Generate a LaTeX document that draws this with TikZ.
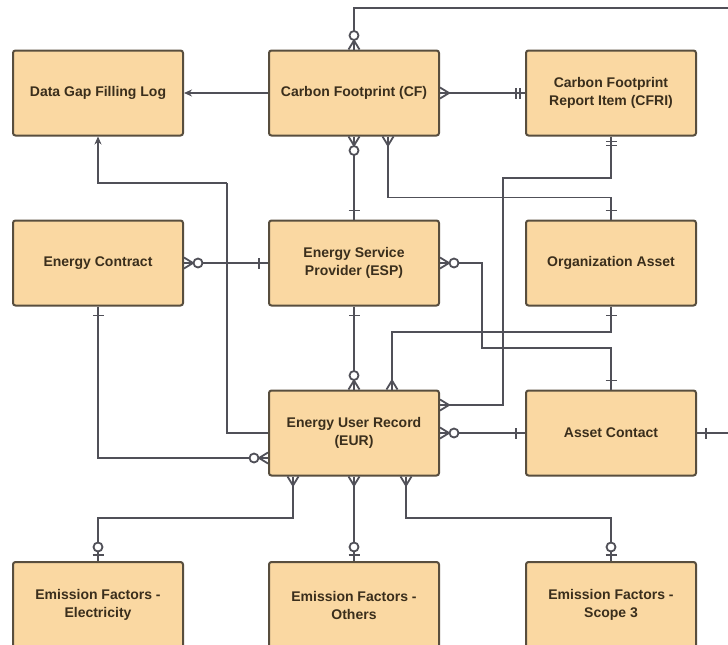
\documentclass[tikz,border=0pt]{standalone}
\usepackage{fontspec}
\setmainfont{Liberation Sans}
\usetikzlibrary{arrows.meta,calc}
\definecolor{boxfill}{RGB}{250,216,162}
\definecolor{boxline}{RGB}{88,78,62}
\definecolor{txt}{RGB}{58,46,28}
\definecolor{wire}{RGB}{80,80,88}
\begin{document}
\begin{tikzpicture}[x=1pt,y=-1pt,
  ent/.style={draw=boxline, line width=2pt, fill=boxfill, rounded corners=2.5pt,
    minimum width=170pt, minimum height=85pt, inner sep=0pt, align=center,
    font=\bfseries\fontsize{14}{18}\selectfont, text=txt},
  conn/.style={draw=wire, line width=1.8pt},
  tip/.style={-{Stealth[length=8pt,width=7pt]}},
  many/.pic={\draw[conn] (0,5.5) -- (9,0) -- (0,-5.5);},
  zmany/.pic={\draw[conn] (0,5.5) -- (9,0) -- (0,-5.5); \draw[conn,fill=white] (14,0) circle[radius=4.5pt];},
  one/.pic={\draw[conn] (9,-5.5) -- (9,5.5);},
  oneonly/.pic={\draw[conn] (5,-5.5) -- (5,5.5) (9,-5.5) -- (9,5.5);},
  zone/.pic={\draw[conn] (6,-5.5) -- (6,5.5); \draw[conn,fill=white] (14,0) circle[radius=4.5pt];}
]
\clip (0,0) rectangle (728,645);
\fill[white] (0,0) rectangle (728,645);

% entities
\node[ent] (dgfl) at (98,93)  {Data Gap Filling Log};
\node[ent] (cf)   at (354,93) {Carbon Footprint (CF)};
\node[ent] (cfri) at (611,93) {Carbon Footprint\\Report Item (CFRI)};
\node[ent] (ec)   at (98,263) {Energy Contract};
\node[ent] (esp)  at (354,263) {Energy Service\\Provider (ESP)};
\node[ent] (oa)   at (611,263) {Organization Asset};
\node[ent] (eur)  at (354,433) {Energy User Record\\(EUR)};
\node[ent] (ac)   at (611,433) {Asset Contact};
\node[ent, minimum height=86pt] (efe) at (98,605)  {Emission Factors -\\Electricity};
\node[ent, minimum height=86pt] (efo) at (354,605) {Emission Factors -\\Others};
\node[ent, minimum height=86pt] (efs) at (611,605) {Emission Factors -\\Scope 3};

% connectors
\draw[conn,tip] (cf.west) -- (dgfl.east);
\draw[conn] (cf.east) -- (cfri.west);
\draw[conn] (cf.north) |- (740,8) |- (ac.east);
\draw[conn] (cf.south) -- (esp.north);
\draw[conn] ([xshift=34pt]cf.south) |- ([yshift=22pt]oa.north) -- (oa.north);
\draw[conn,tip] (227,183) -| (dgfl.south);
\draw[conn] (227,183) |- (eur.west);
\draw[conn] (ec.east) -- (esp.west);
\draw[conn] (ec.south) |- ([yshift=-25pt]eur.west);
\draw[conn] (esp.south) -- (eur.north);
\draw[conn] (esp.east) -| (482,348) -| (ac.north);
\draw[conn] (oa.south) |- (392,332) -- ([xshift=38pt]eur.north);
\draw[conn] (cfri.south) |- (503,178) |- ([yshift=28pt]eur.east);
\draw[conn] (eur.east) -- (ac.west);
\draw[conn] ([xshift=-61pt]eur.south) |- ([yshift=43pt]efe.north) -- (efe.north);
\draw[conn] (eur.south) -- (efo.north);
\draw[conn] ([xshift=52pt]eur.south) |- ([yshift=43pt]efs.north) -- (efs.north);

% end marks
\pic at (cf.east) {many};
\pic[rotate=180] at (cfri.west) {oneonly};
\pic[rotate=90] at (cf.north) {zmany};
\pic at (ac.east) {one};
\pic[rotate=-90] at (cf.south) {zmany};
\pic[rotate=90] at (esp.north) {one};
\pic[rotate=-90] at ([xshift=34pt]cf.south) {many};
\pic[rotate=90] at (oa.north) {one};
\pic at (ec.east) {zmany};
\pic[rotate=180] at (esp.west) {one};
\pic[rotate=-90] at (ec.south) {one};
\pic[rotate=180] at ([yshift=-25pt]eur.west) {zmany};
\pic[rotate=-90] at (esp.south) {one};
\pic[rotate=90] at (eur.north) {zmany};
\pic at (esp.east) {zmany};
\pic[rotate=90] at (ac.north) {one};
\pic[rotate=-90] at (oa.south) {one};
\pic[rotate=90] at ([xshift=38pt]eur.north) {many};
\pic[rotate=-90] at (cfri.south) {oneonly};
\pic at ([yshift=28pt]eur.east) {many};
\pic at (eur.east) {zmany};
\pic[rotate=180] at (ac.west) {one};
\pic[rotate=-90] at ([xshift=-61pt]eur.south) {many};
\pic[rotate=90] at (efe.north) {zone};
\pic[rotate=-90] at (eur.south) {many};
\pic[rotate=90] at (efo.north) {zone};
\pic[rotate=-90] at ([xshift=52pt]eur.south) {many};
\pic[rotate=90] at (efs.north) {zone};
\end{tikzpicture}
\end{document}
